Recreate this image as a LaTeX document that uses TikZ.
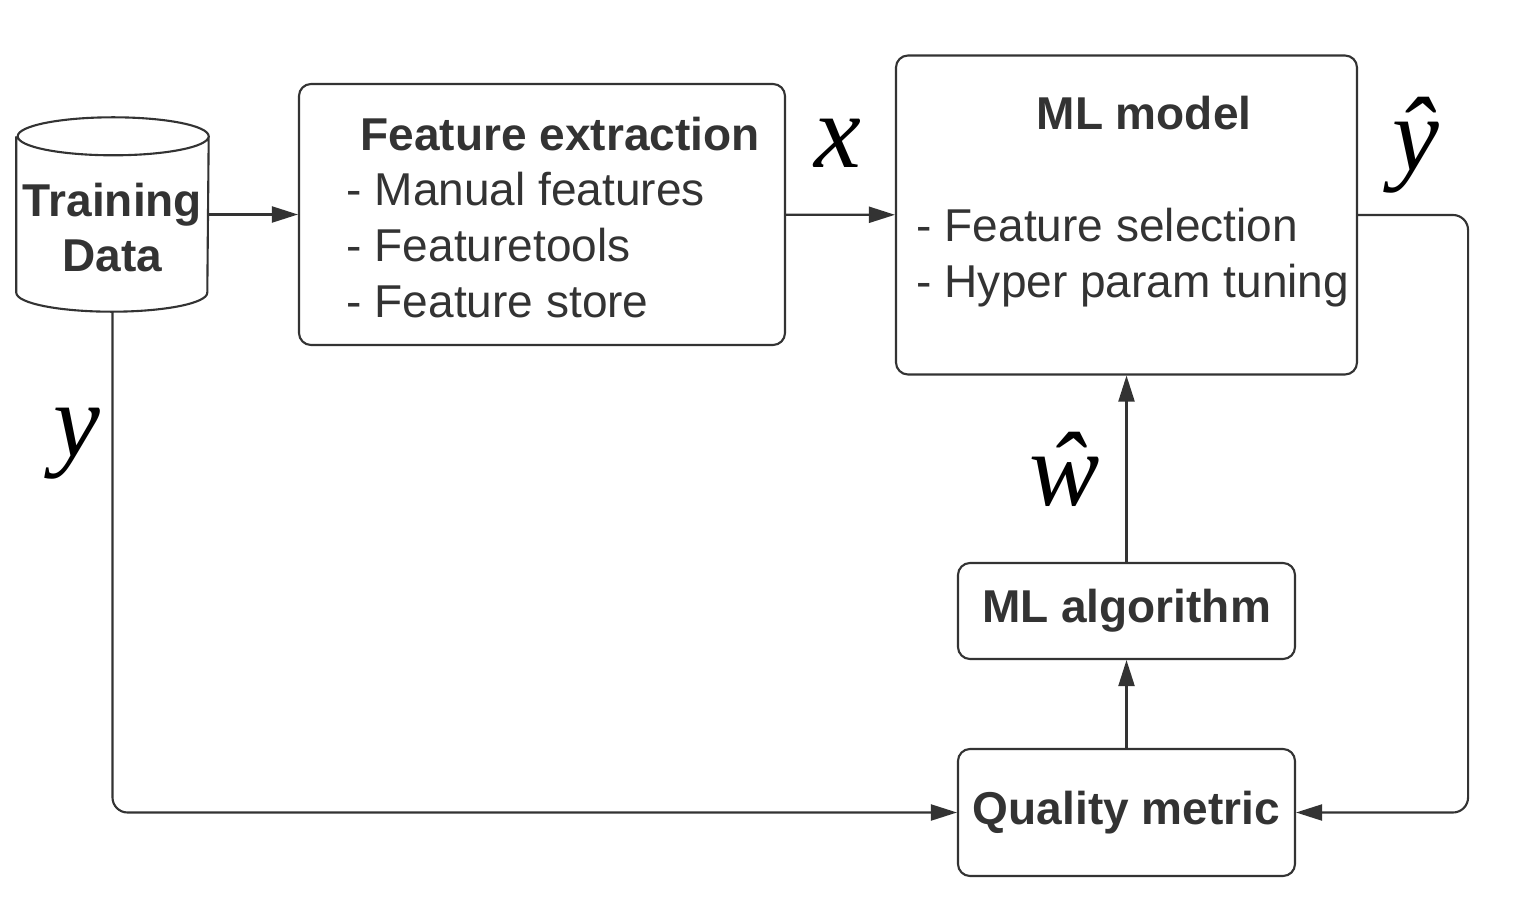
\documentclass[tikz,border=0pt]{standalone}
\usepackage{fontspec}
\setmainfont{Liberation Sans}
\newfontfamily\labelfont{Liberation Serif}
\usetikzlibrary{arrows.meta, positioning}
\definecolor{ink}{HTML}{333333}
\newcommand{\boxfont}{\fontsize{13.1}{15.9}\selectfont}

\begin{document}
\begin{tikzpicture}[
    box/.style={rectangle, draw=ink, line width=0.6pt, rounded corners=0.12cm, inner sep=0pt, text=ink, font=\boxfont\bfseries},
    txt/.style={inner sep=0pt, text=ink, align=left, font=\boxfont},
    lbl/.style={inner sep=0pt, font=\labelfont\itshape\fontsize{30}{30}\selectfont},
    arr/.style={draw=ink, line width=0.6pt, -{Triangle[length=0.26cm, width=0.16cm]}}
]
    \useasboundingbox (0,0) rectangle (15.24,9);

    % training data cylinder
    \node (data) [minimum width=1.91cm, minimum height=1.93cm, inner sep=0pt] at (1.125,6.855) {};
    \draw[ink, line width=0.6pt] ([yshift=-0.19cm]data.north west) -- ([yshift=0.19cm]data.south west)
        arc[start angle=180, end angle=360, x radius=0.955cm, y radius=0.19cm]
        -- ([yshift=-0.19cm]data.north east)
        arc[start angle=0, end angle=360, x radius=0.955cm, y radius=0.19cm];
    \node (datatext) [txt, align=center, anchor=north, font=\boxfont\bfseries] at (1.125,7.18) {Training\\Data};

    % boxes
    \node (fe) [box, minimum width=4.86cm, minimum height=2.61cm] at (5.42,6.855) {};
    \node (fetext) [txt, anchor=north west] at ([xshift=0.48cm, yshift=-0.33cm]fe.north west)
        {\hspace*{0.14cm}\textbf{Feature extraction}\\- Manual features\\- Featuretools\\- Feature store};
    \node (ml) [box, minimum width=4.61cm, minimum height=3.19cm] at (11.265,6.85) {};
    \node (mltext) [txt, anchor=north west] at ([xshift=0.21cm, yshift=-0.41cm]ml.north west)
        {\hspace*{1.2cm}\textbf{ML model}\\[15.9pt]- Feature selection\\- Hyper param tuning};
    \node (alg) [box, minimum width=3.37cm, minimum height=0.96cm] at (11.265,2.89) {ML algorithm};
    \node (qm) [box, minimum width=3.37cm, minimum height=1.27cm] at (11.265,0.875) {Quality metric};

    % labels
    \node (xlbl) [lbl, anchor=base] at (8.38,7.32) {x};
    \node (yhat) [lbl, anchor=base] at (14.16,7.29) {ŷ};
    \node (ylbl) [lbl, anchor=base] at (0.77,4.44) {y};
    \node (what) [lbl, anchor=base] at (10.65,3.95) {ŵ};

    \draw[arr] (data) -- (fe);
    \draw[arr] (fe) -- (ml);
    \draw[arr, rounded corners=0.15cm] (ml.east) -- ++(1.1,0) |- (qm.east);
    \draw[arr, rounded corners=0.15cm] (data.south) |- (qm.west);
    \draw[arr] (qm) -- (alg);
    \draw[arr] (alg) -- (ml);
\end{tikzpicture}
\end{document}
